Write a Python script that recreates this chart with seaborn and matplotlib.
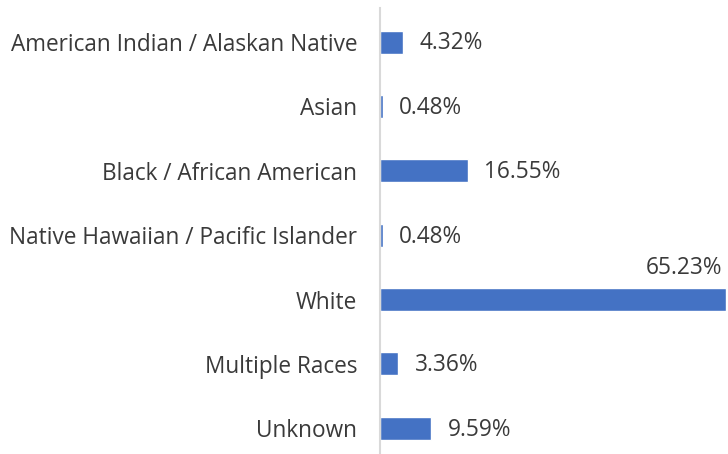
import matplotlib
matplotlib.use("Agg")
import matplotlib.pyplot as plt
import seaborn as sns
import pandas as pd

categories = ["American Indian / Alaskan Native", "Asian", "Black / African American",
              "Native Hawaiian / Pacific Islander", "White", "Multiple Races", "Unknown"]
values = [4.32, 0.48, 16.55, 0.48, 65.23, 3.36, 9.59]
labels = ["4.32%", "0.48%", "16.55%", "0.48%", "65.23%", "3.36%", "9.59%"]

sns.set_style("white")
plt.rcParams["font.family"] = ["Open Sans", "DejaVu Sans"]

df = pd.DataFrame({"race": categories, "pct": values})

fig = plt.figure(figsize=(7.28, 4.54), dpi=100)
ax = fig.add_axes([380 / 728, 0, 346 / 728, 446 / 454])

sns.barplot(data=df, x="pct", y="race", color="#4472C4", saturation=1,
            width=0.36, ax=ax, orient="h")

ax.set_xlim(0, 65.23)
ax.set_ylim(6.40, -0.53)
ax.set_xlabel("")
ax.set_ylabel("")
ax.set_xticks([])
ax.tick_params(axis="y", length=0, pad=16.5, labelsize=16.3, labelcolor="#3a3a3a")

for s in ["top", "right", "bottom"]:
    ax.spines[s].set_visible(False)
ax.spines["left"].set_color("#d9d9d9")
ax.spines["left"].set_linewidth(1.5)

# data labels; the widest bar gets its label above the bar end
for i, (v, lab) in enumerate(zip(values, labels)):
    if v == max(values):
        ax.annotate(lab, (v, i), xytext=(-3, 23), textcoords="offset points",
                    ha="right", va="center", fontsize=16.3, color="#3a3a3a",
                    annotation_clip=False)
    else:
        ax.annotate(lab, (v, i), xytext=(12, -1), textcoords="offset points",
                    ha="left", va="center", fontsize=16.3, color="#3a3a3a")

fig.savefig("out.png", dpi=100)
